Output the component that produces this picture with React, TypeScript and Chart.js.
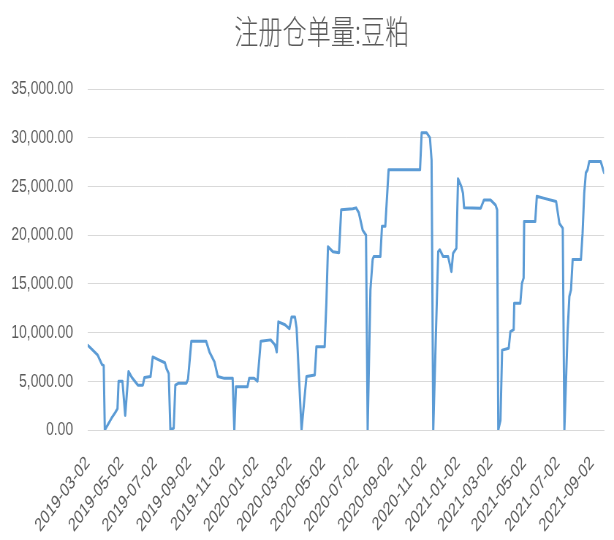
import React, { useEffect, useRef } from "react";
import { Chart, registerables } from "chart.js";

Chart.register(...registerables);

const TITLE = "注册仓单量:豆粕";

const dates: string[] = [
  "2019-03-02", "2019-03-20", "2019-03-28", "2019-03-31", "2019-04-02", "2019-04-04", "2019-04-14", "2019-04-21",
  "2019-04-25", "2019-04-27", "2019-05-04", "2019-05-09", "2019-05-15", "2019-05-21", "2019-06-01", "2019-06-10",
  "2019-06-13", "2019-06-24", "2019-06-28", "2019-07-09", "2019-07-20", "2019-07-23", "2019-07-27", "2019-07-30",
  "2019-08-05", "2019-08-08", "2019-08-14", "2019-08-28", "2019-08-31", "2019-09-06", "2019-10-03", "2019-10-09",
  "2019-10-18", "2019-10-24", "2019-11-05", "2019-11-20", "2019-11-23", "2019-11-26", "2019-12-17", "2019-12-20",
  "2019-12-29", "2020-01-04", "2020-01-10", "2020-01-28", "2020-02-05", "2020-02-08", "2020-02-11", "2020-02-23",
  "2020-03-02", "2020-03-06", "2020-03-12", "2020-03-15", "2020-03-24", "2020-04-02", "2020-04-17", "2020-04-20",
  "2020-05-05", "2020-05-08", "2020-05-11", "2020-05-20", "2020-05-31", "2020-06-04", "2020-06-25", "2020-07-01",
  "2020-07-06", "2020-07-13", "2020-07-19", "2020-07-22", "2020-07-27", "2020-07-31", "2020-08-02", "2020-08-14",
  "2020-08-17", "2020-08-23", "2020-08-29", "2020-10-25", "2020-10-28", "2020-11-06", "2020-11-12", "2020-11-15",
  "2020-11-18", "2020-11-27", "2020-11-30", "2020-12-06", "2020-12-15", "2020-12-21", "2020-12-24", "2020-12-30",
  "2021-01-02", "2021-01-08", "2021-01-11", "2021-01-13", "2021-02-12", "2021-02-18", "2021-03-02", "2021-03-11",
  "2021-03-14", "2021-03-16", "2021-03-20", "2021-03-23", "2021-04-04", "2021-04-07", "2021-04-13", "2021-04-14",
  "2021-04-25", "2021-04-28", "2021-05-01", "2021-05-02", "2021-05-22", "2021-05-25", "2021-06-06", "2021-06-29",
  "2021-07-05", "2021-07-11", "2021-07-14", "2021-07-20", "2021-07-23", "2021-07-26", "2021-07-29", "2021-08-13",
  "2021-08-16", "2021-08-19", "2021-08-22", "2021-08-25", "2021-08-28", "2021-09-18", "2021-09-24",
];

const values: number[] = [
  8700, 7700, 6700, 6600, 0, 200, 1200, 1800,
  2200, 5000, 5000, 1500, 6000, 5400, 4600, 4600,
  5400, 5500, 7500, 7200, 6900, 6300, 5800, 0,
  200, 4600, 4800, 4800, 5200, 9100, 9100, 8000,
  7000, 5500, 5300, 5300, 0, 4450, 4450, 5300,
  5300, 5000, 9100, 9250, 8700, 8000, 11100, 10800,
  10400, 11600, 11600, 10500, 0, 5500, 5650, 8550,
  8550, 13000, 18800, 18300, 18200, 22600, 22700, 22800,
  22300, 20500, 20000, 0, 14400, 17500, 17800, 17800,
  20900, 20900, 26700, 26700, 30500, 30500, 30000, 27700,
  0, 18300, 18500, 17800, 17800, 16250, 18150, 18650,
  25800, 25000, 24300, 22800, 22750, 23600, 23600, 23100,
  22600, 0, 1000, 8200, 8400, 10100, 10300, 13000,
  13000, 15050, 15600, 21400, 21400, 24000, 23800, 23450,
  21200, 20700, 0, 10300, 13700, 14400, 17500, 17500,
  20200, 24300, 26400, 26700, 27550, 27550, 26400,
];

const xTickLabels: string[] = [
  "2019-03-02", "2019-05-02", "2019-07-02", "2019-09-02", "2019-11-02", "2020-01-02", "2020-03-02", "2020-05-02",
  "2020-07-02", "2020-09-02", "2020-11-02", "2021-01-02", "2021-03-02", "2021-05-02", "2021-07-02", "2021-09-02",
];

const yMin = 0;
const yMax = 35000;
const yStep = 5000;

const toDay = (s: string) => {
  const [y, m, d] = s.split("-").map(Number);
  return Date.UTC(y, m - 1, d) / 86400000;
};

const CANVAS_W = 840;
const CANVAS_H = 540;
const VIEW_W = 614;
const TEXT_COLOR = "#595959";

const titlePlugin = {
  id: "customTitle",
  afterDraw(chart: any) {
    const ctx = chart.ctx;
    ctx.save();
    ctx.font = "300 33px 'Noto Sans CJK SC', sans-serif";
    ctx.fillStyle = TEXT_COLOR;
    ctx.textAlign = "center";
    ctx.textBaseline = "middle";
    ctx.fillText(TITLE, chart.width * 0.524, 31);
    ctx.restore();
  },
};

export default function App() {
  const ref = useRef<HTMLCanvasElement | null>(null);

  useEffect(() => {
    if (!ref.current) return;
    const points = dates.map((d, i) => ({ x: toDay(d), y: values[i] }));
    const chart = new Chart(ref.current, {
      type: "line",
      data: {
        datasets: [
          {
            label: TITLE,
            data: points,
            borderColor: "#5b9bd5",
            backgroundColor: "#5b9bd5",
            borderWidth: 3,
            pointRadius: 0,
            tension: 0,
            borderJoinStyle: "round",
            borderCapStyle: "round",
          },
        ],
      },
      options: {
        responsive: false,
        animation: false,
        devicePixelRatio: 1,
        layout: { padding: { left: 0, right: 3, top: 89, bottom: 0 } },
        plugins: {
          legend: { display: false },
          tooltip: { enabled: false },
          title: { display: false },
        },
        scales: {
          x: {
            type: "linear",
            min: toDay(dates[0]),
            max: toDay(dates[dates.length - 1]),
            afterBuildTicks: (scale: any) => {
              scale.ticks = xTickLabels.map((l) => ({ value: toDay(l) }));
            },
            afterFit: (scale: any) => {
              scale.height = 110;
            },
            grid: { display: false },
            border: { display: true, color: "#d9d9d9" },
            ticks: {
              autoSkip: false,
              maxRotation: 45,
              minRotation: 45,
              padding: 14,
              color: TEXT_COLOR,
              font: { family: "'Liberation Sans', Arial, sans-serif", size: 19 },
              callback: (value: any) => {
                const lbl = xTickLabels.find((l) => toDay(l) === Number(value));
                return lbl ?? "";
              },
            },
          },
          y: {
            min: yMin,
            max: yMax,
            afterFit: (scale: any) => {
              scale.width = 120;
            },
            grid: { color: "#d9d9d9", lineWidth: 1, drawTicks: false },
            border: { display: false },
            ticks: {
              stepSize: yStep,
              padding: 20,
              color: TEXT_COLOR,
              font: { family: "'Liberation Sans', Arial, sans-serif", size: 19 },
              callback: (v: any) =>
                Number(v).toLocaleString("en-US", { minimumFractionDigits: 2, maximumFractionDigits: 2 }),
            },
          },
        },
      },
      plugins: [titlePlugin],
    });
    return () => chart.destroy();
  }, []);

  return (
    <div
      style={{
        position: "fixed",
        left: 0,
        top: 0,
        width: VIEW_W,
        height: CANVAS_H,
        overflow: "hidden",
        background: "#ffffff",
      }}
    >
      <div
        style={{
          width: CANVAS_W,
          height: CANVAS_H,
          transform: `scaleX(${VIEW_W / CANVAS_W})`,
          transformOrigin: "0 0",
        }}
      >
        <canvas ref={ref} width={CANVAS_W} height={CANVAS_H} />
      </div>
    </div>
  );
}
